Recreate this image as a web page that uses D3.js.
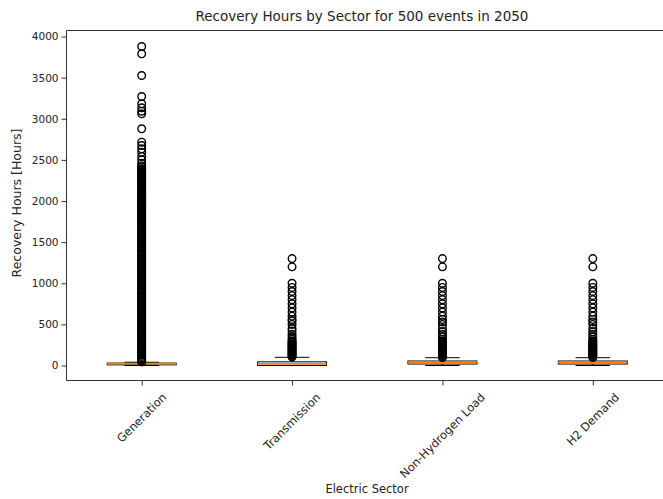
<!DOCTYPE html>
<html><head><meta charset="utf-8">
<script src="https://cdn.jsdelivr.net/npm/d3@7"></script>
<style>body{margin:0;background:#fff;overflow:hidden}svg{display:block}text{font-family:"DejaVu Sans",sans-serif;fill:#222}</style>
</head><body><svg id="c" width="663" height="499"></svg>
<script>
const sectors = ["Generation", "Transmission", "Non-Hydrogen Load", "H2 Demand"];
const whiskerLow = [0, 0, 0, 0];
const q1 = [8, 0, 18, 18];
const median = [24, 20, 38, 38];
const q3 = [30, 45, 55, 55];
const whiskerHigh = [40, 100, 95, 95];
const yTicks = [0, 500, 1000, 1500, 2000, 2500, 3000, 3500, 4000];

const genOutliers = [3878,3790,3526,3270,3182,3133,3092,3060,2878,2715,2675,2634,2594,2541,2501,2460,2430,2411,
 2392,2380,2365,2352,2338,2330,2315,2301,2288,2275,2262,2250,2236,2222,2210,2198,2184,2170,2158,2146,2133,2120,2108,2095,2083,2071,2057,2043,2031,2020,2007,1994,1981,1968,1957,1945,1932,1920,1906,1893,1881,1870,1857,1845,1832,1820,1809,1798,1784,1771,1760,1748,1735,1722,1711,1700,
 1686,1671,1655,1640,1626,1610,1596,1581,1565,1550,1536,1520,1505,1491,1476,1460,1446,1431,1415,1400,1386,1371,1355,1340,1326,1311,1296,1280,
 1266,1251,1236,1220,1206,1191,1175,1160,1146,1131,1116,1100,1086,1071,1056,1041,1026,1011,996,981,966,951,936,921,906,891,876,861,846,831,
 816,801,786,771,756,741,726,711,696,681,666,651,636,621,606,591,576,561,546,531,516,501,486,471,456,441,426,411,396,381,366,351,336,321,306,
 291,276,261,246,231,216,201,186,171,156,141,126,111,96,81,66,52,44];
const transOutliers = [1300,1200,1000,950,900,850,800,750,700,650,600,560,540,500,450,420,380,350,325,300,290,278,265,252,240,228,215,203,190,178,165,152,140,128,115,104];
const loadOutliers = [1300,1200,1000,950,900,850,800,750,700,650,600,560,530,500,450,410,380,350,320,300,288,276,264,252,240,228,216,204,192,180,168,156,144,132,120,108,98];
const h2Outliers = [1300,1200,1000,950,900,850,800,750,700,650,600,560,530,500,450,410,380,350,320,300,288,276,264,252,240,228,216,204,192,180,168,156,144,132,120,108,98];
const outliers = [genOutliers, transOutliers, loadOutliers, h2Outliers];

const svg = d3.select("#c");
const pLeft = 66.5, pRight = 668, pTop = 30.5, pBottom = 380.5;
const x = d3.scaleLinear().domain([0.5, 4.5]).range([pLeft, pRight]);
const y = d3.scaleLinear().domain([-182, 4073]).range([pBottom, pTop]);
const boxHalf = 34.5, capHalf = 17.25;
const ink = "#000";

// spines (right spine falls outside the picture)
[[pLeft, pTop, pLeft, pBottom], [pLeft, pTop, 663, pTop], [pLeft, pBottom, 663, pBottom]].forEach(c => {
  svg.append("line").attr("x1", c[0]).attr("y1", c[1]).attr("x2", c[2]).attr("y2", c[3])
    .attr("stroke", "#333").attr("stroke-width", 1);
});

// y axis ticks
const yAxis = d3.axisLeft(y).tickValues(yTicks).tickSize(5).tickPadding(3).tickFormat(d3.format("d"));
const gy = svg.append("g").attr("transform", `translate(${pLeft},0)`).call(yAxis);
gy.select(".domain").remove();
gy.selectAll(".tick line").attr("stroke", "#333");
gy.selectAll(".tick text").style("font-size", "10.5px").style("font-family", "DejaVu Sans").attr("fill", "#222");

// x axis ticks
const xAxis = d3.axisBottom(x).tickValues([1, 2, 3, 4]).tickSize(5).tickFormat("");
const gx = svg.append("g").attr("transform", `translate(0,${pBottom})`).call(xAxis);
gx.select(".domain").remove();
gx.selectAll(".tick line").attr("stroke", "#333");

// rotated x labels (bbox centered on tick)
const xfs = 11.5;
sectors.forEach((s, i) => {
  const t = svg.append("text").text(s).style("font-size", xfs + "px").attr("text-anchor", "middle").attr("dominant-baseline", "central");
  const w = t.node().getComputedTextLength();
  const h = xfs * 1.15;
  const cx = x(i + 1), cy = pBottom + 10 + (w + h) * Math.SQRT1_2 / 2;
  t.attr("x", cx).attr("y", cy).attr("transform", `rotate(-45,${cx},${cy})`);
});

// boxes
sectors.forEach((s, i) => {
  const cx = x(i + 1);
  const g = svg.append("g");
  g.append("line").attr("x1", cx).attr("x2", cx).attr("y1", y(q1[i])).attr("y2", y(whiskerLow[i])).attr("stroke", ink);
  g.append("line").attr("x1", cx).attr("x2", cx).attr("y1", y(q3[i])).attr("y2", y(whiskerHigh[i])).attr("stroke", ink);
  [whiskerLow[i], whiskerHigh[i]].forEach(v => {
    g.append("line").attr("x1", cx - capHalf).attr("x2", cx + capHalf).attr("y1", y(v)).attr("y2", y(v)).attr("stroke", ink);
  });
  g.append("rect").attr("x", cx - boxHalf).attr("width", 2 * boxHalf)
    .attr("y", y(q3[i])).attr("height", Math.max(0.5, y(q1[i]) - y(q3[i])))
    .attr("fill", "none").attr("stroke", ink).attr("stroke-width", 1);
  g.append("line").attr("x1", cx - boxHalf).attr("x2", cx + boxHalf).attr("y1", y(median[i])).attr("y2", y(median[i]))
    .attr("stroke", "#ff7f0e").attr("stroke-width", 1.8);
  g.selectAll("circle").data(outliers[i]).join("circle")
    .attr("cx", cx).attr("cy", d => y(d)).attr("r", 3.8)
    .attr("fill", "none").attr("stroke", ink).attr("stroke-width", 1.4);
});

// title and labels
svg.append("text").attr("x", 362).attr("y", 21).attr("text-anchor", "middle").style("font-size", "13.5px")
  .text("Recovery Hours by Sector for 500 events in 2050");
svg.append("text").attr("x", 367).attr("y", 493).attr("text-anchor", "middle").style("font-size", "11.5px")
  .text("Electric Sector");
svg.append("text").attr("transform", "translate(21,203) rotate(-90)").attr("text-anchor", "middle").style("font-size", "12.5px")
  .text("Recovery Hours [Hours]");
</script></body></html>
